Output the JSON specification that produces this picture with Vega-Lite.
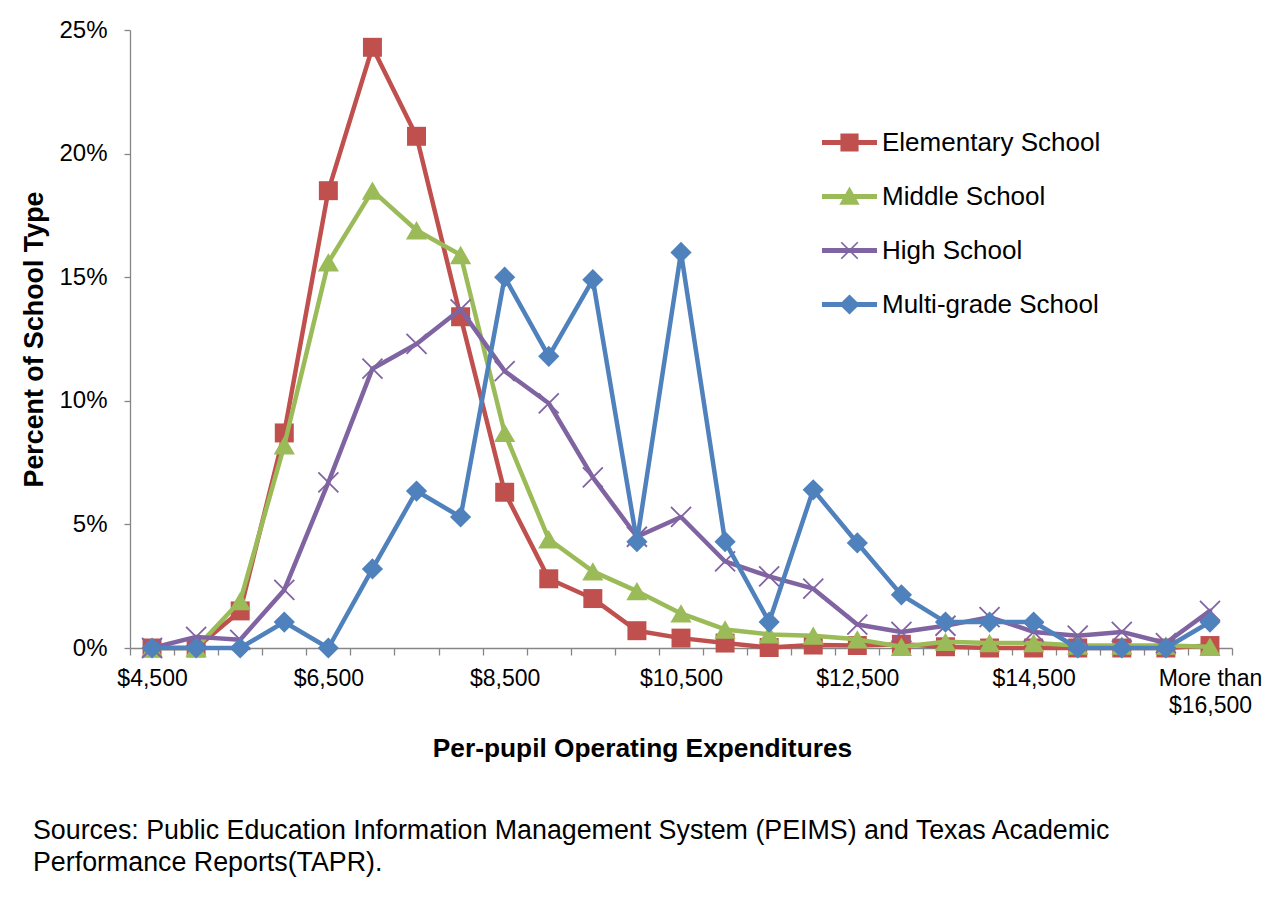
{
  "$schema": "https://vega.github.io/schema/vega-lite/v6.json",
  "width": 1102,
  "height": 618,
  "autosize": {"type": "none"},
  "padding": {"left": 130, "top": 30, "right": 43, "bottom": 251},
  "background": "white",
  "config": {
    "font": "Liberation Sans",
    "view": {"stroke": null},
    "axis": {"grid": false, "domainColor": "#868686", "tickColor": "#868686", "domainWidth": 1.3, "tickWidth": 1.3, "labelColor": "#000000", "titleColor": "#000000", "labelFont": "Liberation Sans", "titleFont": "Liberation Sans"}
  },
  "title": {
    "text": ["Sources: Public Education Information Management System (PEIMS) and Texas Academic", "Performance Reports(TAPR)."],
    "orient": "bottom", "anchor": "start", "frame": "group", "dx": -97, "offset": 57,
    "fontSize": 26.8, "fontWeight": "normal", "font": "Liberation Sans", "color": "#000000", "lineHeight": 32, "baseline": "top"
  },
  "data": {"values": [
    {"c":"$4,500","s":"Elementary School","v":0},
    {"c":"$5,000","s":"Elementary School","v":0},
    {"c":"$5,500","s":"Elementary School","v":1.5},
    {"c":"$6,000","s":"Elementary School","v":8.7},
    {"c":"$6,500","s":"Elementary School","v":18.5},
    {"c":"$7,000","s":"Elementary School","v":24.3},
    {"c":"$7,500","s":"Elementary School","v":20.7},
    {"c":"$8,000","s":"Elementary School","v":13.4},
    {"c":"$8,500","s":"Elementary School","v":6.3},
    {"c":"$9,000","s":"Elementary School","v":2.8},
    {"c":"$9,500","s":"Elementary School","v":2.0},
    {"c":"$10,000","s":"Elementary School","v":0.7},
    {"c":"$10,500","s":"Elementary School","v":0.4},
    {"c":"$11,000","s":"Elementary School","v":0.2},
    {"c":"$11,500","s":"Elementary School","v":0.02},
    {"c":"$12,000","s":"Elementary School","v":0.12},
    {"c":"$12,500","s":"Elementary School","v":0.1},
    {"c":"$13,000","s":"Elementary School","v":0.15},
    {"c":"$13,500","s":"Elementary School","v":0.05},
    {"c":"$14,000","s":"Elementary School","v":0},
    {"c":"$14,500","s":"Elementary School","v":0},
    {"c":"$15,000","s":"Elementary School","v":0},
    {"c":"$15,500","s":"Elementary School","v":0},
    {"c":"$16,000","s":"Elementary School","v":0},
    {"c":"More than $16,500","s":"Elementary School","v":0.1},
    {"c":"$4,500","s":"Middle School","v":0},
    {"c":"$5,000","s":"Middle School","v":0},
    {"c":"$5,500","s":"Middle School","v":1.9},
    {"c":"$6,000","s":"Middle School","v":8.2},
    {"c":"$6,500","s":"Middle School","v":15.6},
    {"c":"$7,000","s":"Middle School","v":18.5},
    {"c":"$7,500","s":"Middle School","v":16.9},
    {"c":"$8,000","s":"Middle School","v":15.9},
    {"c":"$8,500","s":"Middle School","v":8.7},
    {"c":"$9,000","s":"Middle School","v":4.4},
    {"c":"$9,500","s":"Middle School","v":3.1},
    {"c":"$10,000","s":"Middle School","v":2.3},
    {"c":"$10,500","s":"Middle School","v":1.4},
    {"c":"$11,000","s":"Middle School","v":0.75},
    {"c":"$11,500","s":"Middle School","v":0.55},
    {"c":"$12,000","s":"Middle School","v":0.5},
    {"c":"$12,500","s":"Middle School","v":0.35},
    {"c":"$13,000","s":"Middle School","v":0.05},
    {"c":"$13,500","s":"Middle School","v":0.25},
    {"c":"$14,000","s":"Middle School","v":0.2},
    {"c":"$14,500","s":"Middle School","v":0.2},
    {"c":"$15,000","s":"Middle School","v":0.1},
    {"c":"$15,500","s":"Middle School","v":0.1},
    {"c":"$16,000","s":"Middle School","v":0.1},
    {"c":"More than $16,500","s":"Middle School","v":0.05},
    {"c":"$4,500","s":"High School","v":0},
    {"c":"$5,000","s":"High School","v":0.45},
    {"c":"$5,500","s":"High School","v":0.33},
    {"c":"$6,000","s":"High School","v":2.35},
    {"c":"$6,500","s":"High School","v":6.7},
    {"c":"$7,000","s":"High School","v":11.3},
    {"c":"$7,500","s":"High School","v":12.3},
    {"c":"$8,000","s":"High School","v":13.7},
    {"c":"$8,500","s":"High School","v":11.2},
    {"c":"$9,000","s":"High School","v":9.9},
    {"c":"$9,500","s":"High School","v":6.9},
    {"c":"$10,000","s":"High School","v":4.5},
    {"c":"$10,500","s":"High School","v":5.3},
    {"c":"$11,000","s":"High School","v":3.5},
    {"c":"$11,500","s":"High School","v":2.9},
    {"c":"$12,000","s":"High School","v":2.4},
    {"c":"$12,500","s":"High School","v":0.95},
    {"c":"$13,000","s":"High School","v":0.65},
    {"c":"$13,500","s":"High School","v":0.9},
    {"c":"$14,000","s":"High School","v":1.25},
    {"c":"$14,500","s":"High School","v":0.65},
    {"c":"$15,000","s":"High School","v":0.5},
    {"c":"$15,500","s":"High School","v":0.65},
    {"c":"$16,000","s":"High School","v":0.2},
    {"c":"More than $16,500","s":"High School","v":1.5},
    {"c":"$4,500","s":"Multi-grade School","v":0},
    {"c":"$5,000","s":"Multi-grade School","v":0},
    {"c":"$5,500","s":"Multi-grade School","v":0},
    {"c":"$6,000","s":"Multi-grade School","v":1.05},
    {"c":"$6,500","s":"Multi-grade School","v":0},
    {"c":"$7,000","s":"Multi-grade School","v":3.2},
    {"c":"$7,500","s":"Multi-grade School","v":6.35},
    {"c":"$8,000","s":"Multi-grade School","v":5.3},
    {"c":"$8,500","s":"Multi-grade School","v":15.0},
    {"c":"$9,000","s":"Multi-grade School","v":11.8},
    {"c":"$9,500","s":"Multi-grade School","v":14.9},
    {"c":"$10,000","s":"Multi-grade School","v":4.3},
    {"c":"$10,500","s":"Multi-grade School","v":16.0},
    {"c":"$11,000","s":"Multi-grade School","v":4.3},
    {"c":"$11,500","s":"Multi-grade School","v":1.05},
    {"c":"$12,000","s":"Multi-grade School","v":6.4},
    {"c":"$12,500","s":"Multi-grade School","v":4.25},
    {"c":"$13,000","s":"Multi-grade School","v":2.15},
    {"c":"$13,500","s":"Multi-grade School","v":1.05},
    {"c":"$14,000","s":"Multi-grade School","v":1.05},
    {"c":"$14,500","s":"Multi-grade School","v":1.05},
    {"c":"$15,000","s":"Multi-grade School","v":0},
    {"c":"$15,500","s":"Multi-grade School","v":0},
    {"c":"$16,000","s":"Multi-grade School","v":0},
    {"c":"More than $16,500","s":"Multi-grade School","v":1.05}
  ]},
  "encoding": {
    "x": {
      "field": "c", "type": "nominal", "sort": null,
      "scale": {"type": "band", "paddingInner": 0, "paddingOuter": 0},
      "axis": {
        "title": "Per-pupil Operating Expenditures",
        "tickBand": "extent", "tickSize": 7, "labelPadding": 12, "labelAngle": 0,
        "labelFontSize": 23, "labelLineHeight": 27, "labelOverlap": false, "labelBound": false,
        "labelExpr": "datum.value === 'More than $16,500' ? ['More than', '$16,500'] : (indexof(['$4,500','$6,500','$8,500','$10,500','$12,500','$14,500'], datum.value) >= 0 ? datum.value : '')",
        "titleFontSize": 26.3, "titleFontWeight": "bold", "titleX": 512, "titleY": 108, "titleBaseline": "alphabetic"
      }
    },
    "y": {
      "field": "v", "type": "quantitative",
      "scale": {"domain": [0, 25], "nice": false, "zero": true},
      "axis": {
        "title": "Percent of School Type",
        "values": [0, 5, 10, 15, 20, 25],
        "labelExpr": "datum.value + '%'",
        "tickSize": 6, "labelPadding": 17, "labelFontSize": 24,
        "titleFontSize": 26.8, "titleFontWeight": "bold", "titleX": -88, "titleBaseline": "alphabetic"
      }
    },
    "color": {
      "field": "s", "type": "nominal",
      "scale": {"domain": ["Elementary School", "Middle School", "High School", "Multi-grade School"], "range": ["#C0504D", "#9BBB59", "#8064A2", "#4F81BD"]},
      "legend": {
        "title": null, "orient": "none", "legendX": 692, "legendY": 85,
        "padding": 0, "rowPadding": 13, "labelOffset": 5, "labelFontSize": 26, "labelLimit": 0,
        "labelFont": "Liberation Sans", "labelColor": "#000000", "symbolSize": 3025,
        "encode": {"symbols": {"update": {
          "shape": {"signal": "datum.value === 'Elementary School' ? 'M-1,-0.09L1,-0.09L1,0.09L-1,0.09Z M-0.33,-0.33L0.33,-0.33L0.33,0.33L-0.33,0.33Z' : datum.value === 'Middle School' ? 'M-1,-0.09L1,-0.09L1,0.09L-1,0.09Z M0,-0.36L0.37,0.3L-0.37,0.3Z' : datum.value === 'High School' ? 'M-1,-0.09L1,-0.09L1,0.09L-1,0.09Z M-0.321,-0.279L-0.279,-0.321L0.321,0.279L0.279,0.321Z M-0.279,0.321L-0.321,0.279L0.279,-0.321L0.321,-0.279Z' : 'M-1,-0.09L1,-0.09L1,0.09L-1,0.09Z M0,-0.36L0.37,0L0,0.36L-0.37,0Z'"},
          "fill": {"scale": "color", "field": "value"},
          "stroke": {"value": "transparent"},
          "strokeWidth": {"value": 0},
          "size": {"value": 3025},
          "opacity": {"value": 1}
        }}}
      }
    }
  },
  "layer": [
    {"transform": [{"filter": "datum.s === 'Elementary School'"}], "mark": {"type": "line", "strokeWidth": 4.5, "strokeJoin": "round", "strokeCap": "round"}},
    {"transform": [{"filter": "datum.s === 'Elementary School'"}], "mark": {"type": "point", "shape": "square", "filled": true, "size": 360, "opacity": 1}},
    {"transform": [{"filter": "datum.s === 'Middle School'"}], "mark": {"type": "line", "strokeWidth": 4.5, "strokeJoin": "round", "strokeCap": "round"}},
    {"transform": [{"filter": "datum.s === 'Middle School'"}], "mark": {"type": "point", "shape": "triangle-up", "filled": true, "size": 450, "opacity": 1}},
    {"transform": [{"filter": "datum.s === 'High School'"}], "mark": {"type": "line", "strokeWidth": 4.5, "strokeJoin": "round", "strokeCap": "round"}},
    {"transform": [{"filter": "datum.s === 'High School'"}], "mark": {"type": "point", "shape": "M-1,-1L1,1M-1,1L1,-1", "filled": false, "strokeWidth": 1.8, "size": 400, "opacity": 1}},
    {"transform": [{"filter": "datum.s === 'Multi-grade School'"}], "mark": {"type": "line", "strokeWidth": 4.5, "strokeJoin": "round", "strokeCap": "round"}},
    {"transform": [{"filter": "datum.s === 'Multi-grade School'"}], "mark": {"type": "point", "shape": "diamond", "filled": true, "size": 450, "opacity": 1}}
  ]
}
